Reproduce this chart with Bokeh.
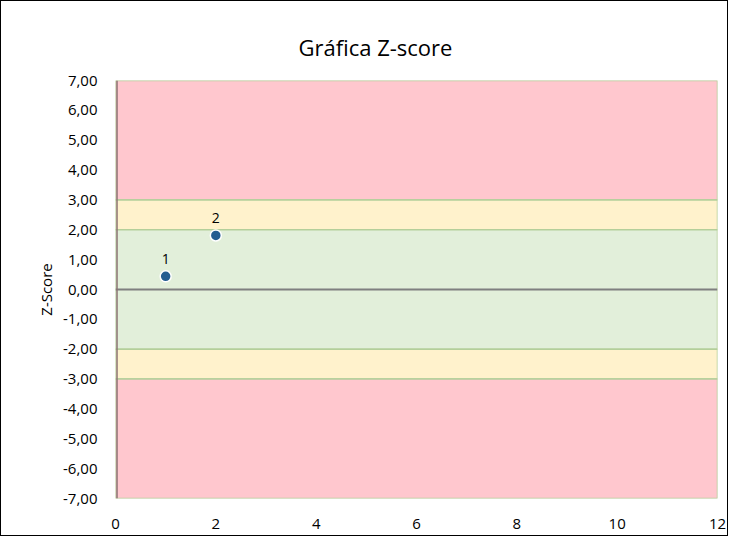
from bokeh.plotting import figure
from bokeh.models import Span, FixedTicker, CustomJSTickFormatter, ColumnDataSource, LabelSet
from bokeh.core.properties import value
from bokeh.embed import file_html
from bokeh.resources import INLINE

# data
point_x = [1, 2]
point_y = [0.44, 1.81]
point_labels = ["1", "2"]

band_bottom = [3, 2, -2, -3, -7]
band_top = [7, 3, 2, -2, -3]
band_colors = ["#FFC7CE", "#FFF2CC", "#E2EFDA", "#FFF2CC", "#FFC7CE"]

y_ticks = list(range(-7, 8))
x_ticks = [0, 2, 4, 6, 8, 10, 12]

FONT = "Open Sans"

p = figure(width=728, height=536, output_backend="svg", toolbar_location=None,
           x_range=(0, 12), y_range=(-7, 7),
           min_border_left=114, min_border_right=12, min_border_top=79, min_border_bottom=39)

p.title.text = "Gráfica Z-score"
p.title.align = "left"
p.title.offset = 183
p.title.text_font = FONT
p.title.text_font_size = "22px"
p.title.text_font_style = "normal"
p.title.text_color = "#000000"
p.title.standoff = 38

p.grid.visible = False
p.outline_line_color = None
p.background_fill_color = "white"

bands = ColumnDataSource(dict(bottom=band_bottom, top=band_top, color=band_colors))
p.quad(left=0, right=12, bottom="bottom", top="top", fill_color="color",
       line_color="#B4CF9A", line_width=1.5, source=bands)

p.add_layout(Span(location=0, dimension="width", line_color="#7F7F7F", line_width=2))
p.add_layout(Span(location=0.03, dimension="height", line_color="#8C7474", line_width=1.5))

src = ColumnDataSource(dict(x=point_x, y=point_y, t=point_labels))
p.scatter("x", "y", size=11, fill_color="#255E91", line_color="white", line_width=1.5, source=src)
p.add_layout(LabelSet(x="x", y="y", text="t", source=src, text_align="center",
                      text_baseline="bottom", y_offset=12, text_font=value(FONT),
                      text_font_size="14px", text_color="#000000"))

p.yaxis.ticker = FixedTicker(ticks=y_ticks)
p.yaxis.formatter = CustomJSTickFormatter(code="return tick.toFixed(2).replace('.', ',');")
p.xaxis.ticker = FixedTicker(ticks=x_ticks)

for ax in (p.xaxis, p.yaxis):
    ax.axis_line_color = None
    ax.major_tick_line_color = None
    ax.minor_tick_line_color = None
    ax.major_label_text_font = FONT
    ax.major_label_text_font_size = "15px"
    ax.major_label_text_color = "#000000"

p.xaxis.major_label_standoff = 14
p.yaxis.major_label_standoff = 12
p.yaxis.axis_label = "Z-Score"
p.yaxis.axis_label_text_font = FONT
p.yaxis.axis_label_text_font_size = "15px"
p.yaxis.axis_label_text_font_style = "normal"
p.yaxis.axis_label_text_color = "#000000"
p.yaxis.axis_label_standoff = 4

p.styles = {"border": "1px solid #000000"}

open("out.html", "w").write(file_html(p, INLINE))
